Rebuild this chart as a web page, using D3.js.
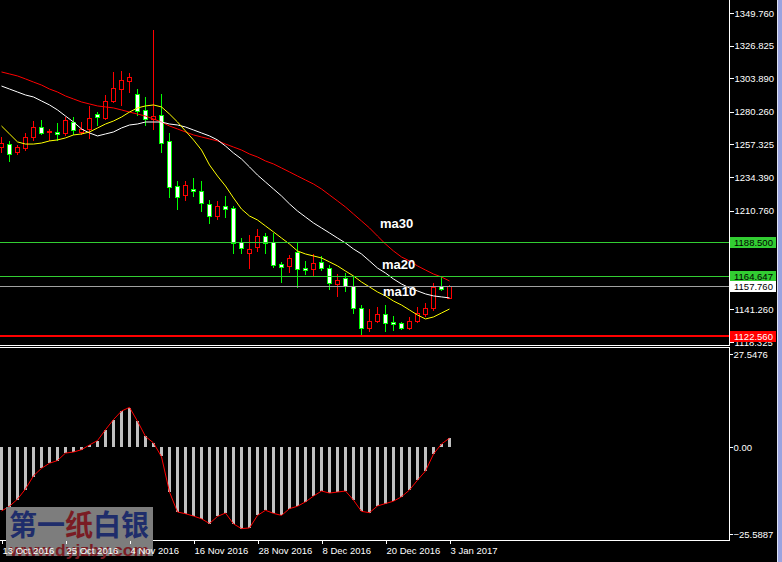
<!DOCTYPE html>
<html><head><meta charset="utf-8">
<script src="https://cdn.jsdelivr.net/npm/d3@7"></script>
<style>html,body{margin:0;padding:0;background:#000;overflow:hidden}svg{display:block}</style>
</head><body><svg id="c" width="782" height="562"></svg>
<script>
const dates = ["13 Oct 2016","14 Oct 2016","17 Oct 2016","18 Oct 2016","19 Oct 2016","20 Oct 2016","21 Oct 2016","24 Oct 2016",
"25 Oct 2016","26 Oct 2016","27 Oct 2016","28 Oct 2016","31 Oct 2016","1 Nov 2016","2 Nov 2016","3 Nov 2016",
"4 Nov 2016","7 Nov 2016","8 Nov 2016","9 Nov 2016","10 Nov 2016","11 Nov 2016","14 Nov 2016","15 Nov 2016",
"16 Nov 2016","17 Nov 2016","18 Nov 2016","21 Nov 2016","22 Nov 2016","23 Nov 2016","24 Nov 2016","25 Nov 2016",
"28 Nov 2016","29 Nov 2016","30 Nov 2016","1 Dec 2016","2 Dec 2016","5 Dec 2016","6 Dec 2016","7 Dec 2016",
"8 Dec 2016","9 Dec 2016","12 Dec 2016","13 Dec 2016","14 Dec 2016","15 Dec 2016","16 Dec 2016","19 Dec 2016",
"20 Dec 2016","21 Dec 2016","22 Dec 2016","23 Dec 2016","27 Dec 2016","28 Dec 2016","29 Dec 2016","30 Dec 2016",
"3 Jan 2017"];
const opens = [1255.5,1257.6,1252.0,1254.8,1262.6,1269.6,1266.1,1266.1,1265.4,1273.1,1266.1,1268.2,1278.7,1275.9,1287.9,1296.3,
1301.9,1292.8,1281.5,1275.2,1278.0,1259.8,1228.1,1221.8,1226.0,1224.6,1215.4,1207.0,1214.0,1212.6,1188.7,1181.0,
1185.2,1192.9,1188.7,1173.3,1171.9,1181.7,1170.4,1169.7,1174.7,1170.4,1159.2,1163.4,1157.8,1142.3,1128.3,1133.2,
1138.1,1132.5,1131.8,1128.3,1133.2,1138.1,1142.3,1157.8,1149.4];
const highs = [1262.6,1259.8,1256.9,1265.4,1273.8,1274.5,1268.2,1272.4,1276.6,1276.6,1273.1,1284.4,1280.1,1292.1,1308.3,1309.0,
1307.6,1296.3,1290.7,1337.8,1292.8,1265.4,1231.6,1231.6,1233.7,1231.6,1218.3,1217.6,1221.1,1214.0,1191.5,1193.7,
1197.9,1195.1,1195.1,1174.7,1179.6,1188.7,1175.4,1180.3,1178.9,1172.6,1166.2,1166.9,1164.1,1144.4,1141.6,1143.0,
1144.4,1136.7,1132.5,1136.0,1143.0,1145.8,1159.9,1164.6,1158.5];
const lows = [1252.0,1245.7,1250.6,1253.4,1260.5,1264.7,1260.5,1260.5,1264.0,1264.7,1264.7,1261.9,1271.0,1275.2,1287.2,1285.1,
1294.2,1278.0,1271.0,1268.2,1252.0,1220.4,1211.9,1218.3,1221.1,1210.5,1202.1,1204.9,1206.3,1181.0,1181.0,1170.4,
1182.4,1181.0,1171.2,1160.6,1167.6,1157.1,1166.2,1165.5,1169.0,1155.7,1150.8,1154.3,1138.8,1122.56,1126.1,1132.5,
1126.1,1126.8,1127.5,1127.5,1132.5,1136.7,1140.9,1155.0,1149.4];
const closes = [1258.3,1250.6,1255.5,1262.6,1269.6,1265.4,1266.8,1264.7,1274.5,1267.5,1268.2,1275.9,1276.6,1287.9,1297.0,1302.6,
1304.8,1280.8,1275.2,1277.3,1258.3,1227.4,1220.4,1228.8,1224.6,1216.2,1207.0,1214.0,1211.9,1188.0,1184.5,1183.8,
1192.9,1188.0,1172.6,1171.2,1177.5,1169.7,1169.0,1174.0,1170.4,1159.9,1162.0,1157.8,1142.3,1128.3,1133.2,1138.1,
1131.8,1131.1,1128.3,1133.2,1138.8,1142.3,1157.1,1155.7,1157.76];
const ma10 = [1270.3,1264.7,1259.1,1257.6,1257.6,1258.3,1259.8,1260.5,1261.9,1264.0,1264.7,1266.1,1268.9,1271.7,1273.8,1276.6,
1280.1,1283.0,1284.4,1285.1,1283.7,1278.7,1273.1,1266.8,1260.5,1253.4,1242.9,1235.1,1228.1,1219.7,1211.9,1207.0,
1204.2,1200.0,1195.8,1191.5,1187.3,1182.4,1180.3,1178.9,1177.5,1174.7,1171.9,1168.3,1164.8,1160.6,1157.1,1153.6,
1150.8,1147.2,1144.4,1140.9,1137.4,1134.6,1136.0,1138.8,1141.6];
const ma20 = [1298.4,1296.3,1294.2,1292.1,1290.7,1287.9,1285.1,1281.6,1277.3,1273.1,1268.2,1265.4,1263.3,1264.7,1266.1,1268.9,
1271.0,1271.7,1273.1,1273.1,1273.1,1271.7,1271.0,1269.6,1267.5,1265.4,1263.3,1260.5,1256.2,1251.3,1247.1,1241.5,
1235.8,1230.9,1226.0,1221.1,1215.5,1210.5,1206.3,1202.1,1198.6,1195.1,1191.5,1188.0,1183.8,1180.3,1175.4,1170.4,
1166.9,1162.7,1159.2,1156.4,1154.3,1152.2,1150.8,1150.1,1149.4];
const ma30 = [1308.3,1306.9,1305.5,1303.4,1301.2,1299.1,1296.3,1294.2,1291.4,1289.3,1287.2,1285.8,1284.4,1283.7,1283.0,1281.6,
1280.1,1278.7,1277.3,1275.2,1273.1,1270.3,1268.2,1266.1,1264.0,1262.6,1261.2,1259.8,1257.6,1255.5,1253.4,1250.6,
1248.5,1245.7,1243.6,1240.8,1238.0,1235.1,1232.3,1229.5,1226.0,1221.8,1217.6,1213.3,1208.4,1203.5,1198.6,1192.9,
1187.3,1182.4,1178.2,1175.4,1171.9,1169.0,1166.2,1164.1,1161.3];
const osc = [-18.6,-17.6,-15.6,-12.6,-8.7,-6.2,-4.7,-3.9,-1.7,-1.4,-0.7,0.7,2.0,5.2,8.2,10.7,
11.7,7.7,3.2,1.3,-2.5,-13.2,-19.1,-19.6,-20.3,-21.1,-22.5,-20.4,-19.4,-22.6,-24.0,-23.8,
-20.1,-18.6,-19.5,-20.1,-18.1,-17.4,-16.1,-14.4,-12.9,-13.5,-13.2,-12.9,-15.6,-18.9,-19.3,-17.3,
-16.6,-15.9,-14.6,-12.6,-9.7,-7.0,-2.0,1.0,2.7];
const signal = [-18.8,-17.4,-15.3,-12.3,-8.4,-6.2,-4.7,-3.9,-1.7,-1.4,-0.7,0.7,2.0,5.2,8.2,10.7,
11.8,7.7,3.2,1.3,-2.8,-13.2,-19.1,-19.6,-20.3,-21.1,-22.5,-20.4,-19.4,-22.6,-24.0,-23.8,
-20.1,-18.6,-19.5,-20.1,-18.1,-17.4,-16.1,-14.4,-12.9,-13.5,-13.2,-12.9,-15.6,-18.9,-19.3,-17.3,
-16.6,-15.9,-14.6,-12.6,-9.7,-7.0,-2.0,1.0,2.7];
const priceTicks = [1349.760,1326.825,1303.890,1280.260,1257.325,1234.390,1210.760,1141.260,1118.325];
const oscTicks = [27.5476, 0, -25.5887];
const levelValues = [1188.500, 1164.647, 1157.760, 1122.560];
const levelKinds = ["line","line","bid","low"];
const maLabels = ["ma30","ma20","ma10"];

const svg = d3.select("#c");
const FONT = "'Liberation Sans', Arial, sans-serif";
svg.append("rect").attr("width",782).attr("height",562).attr("fill","#000");

const n = dates.length;
const x = d3.scaleLinear().domain([0, n-1]).range([1.5, 1.5 + 8*(n-1)]);
const y = d3.scaleLinear().domain([1118.325, 1349.76]).range([342.1, 13]);
const yo = d3.scaleLinear().domain([-25.5887, 27.5476]).range([534, 354]);
const R = 729.5;

const defs = svg.append("defs");
defs.append("clipPath").attr("id","cm").append("rect").attr("x",0).attr("y",0).attr("width",729).attr("height",345);
defs.append("clipPath").attr("id","cl").append("rect").attr("x",0).attr("y",348).attr("width",729).attr("height",192);

const main = svg.append("g").attr("clip-path","url(#cm)");
const lower = svg.append("g").attr("clip-path","url(#cl)");

// candles
const RED = "#ff0000", GRN = "#00ff00";
const cg = main.append("g");
d3.range(n).forEach(i => {
  const up = closes[i] >= opens[i];
  const col = up ? RED : GRN;
  const cx = x(i);
  cg.append("line").attr("x1",cx).attr("x2",cx)
    .attr("y1",Math.round(y(highs[i]))).attr("y2",Math.round(y(lows[i]))+1)
    .attr("stroke",col).attr("stroke-width",1).attr("shape-rendering","crispEdges");
  const yt = Math.round(y(Math.max(opens[i],closes[i]))) + 0.5;
  const yb = Math.round(y(Math.min(opens[i],closes[i]))) + 0.5;
  cg.append("rect").attr("x",cx-2).attr("y",yt).attr("width",4).attr("height",Math.max(0,yb-yt))
    .attr("fill", up ? "#000" : "#fff").attr("stroke",col).attr("stroke-width",1)
    .attr("shape-rendering","crispEdges");
});

// moving averages
const mline = d3.line().x((d,i)=>x(i)).y(d=>y(d));
[[ma30,"#ff0000"],[ma20,"#ffffff"],[ma10,"#ffff00"]].forEach(([arr,c])=>{
  main.append("path").attr("d",mline(arr)).attr("fill","none").attr("stroke",c).attr("stroke-width",1);
});

// horizontal levels
const levelStyle = {line:{stroke:"#32cd32",w:1,bg:"#32cd32",fg:"#000"},
  bid:{stroke:"#a0a0a0",w:1,bg:"#ffffff",fg:"#000"},
  low:{stroke:"#ff0000",w:2,bg:"#ff0000",fg:"#ffffff"}};
levelValues.forEach((v,k)=>{
  const s = levelStyle[levelKinds[k]];
  const yy = Math.round(y(v)) + (s.w===2?0:0.5);
  main.append("line").attr("x1",0).attr("x2",729).attr("y1",yy).attr("y2",yy)
    .attr("stroke",s.stroke).attr("stroke-width",s.w).attr("shape-rendering","crispEdges");
});

// MA labels
const maLabelPos = [[380,228],[382,269],[383,296]];
maLabels.forEach((t,k)=>{
  main.append("text").attr("x",maLabelPos[k][0]).attr("y",maLabelPos[k][1]).text(t)
    .attr("fill","#fff").attr("font-family",FONT).attr("font-weight","bold").attr("font-size","13px");
});

// lower panel histogram
const y0 = Math.round(yo(0));
lower.selectAll("rect.h").data(osc).enter().append("rect")
  .attr("x",(d,i)=>x(i)-1.5).attr("width",3)
  .attr("y",d=> d>=0 ? Math.round(yo(d)) : y0)
  .attr("height",d=> Math.abs(Math.round(yo(d)) - y0))
  .attr("fill","#c0c0c0").attr("shape-rendering","crispEdges");
lower.append("path").attr("d", d3.line().x((d,i)=>x(i)).y(d=>yo(d))(signal))
  .attr("fill","none").attr("stroke","#ff0000").attr("stroke-width",1);

// frames
const fr = svg.append("g").attr("stroke","#fff").attr("stroke-width",1).attr("shape-rendering","crispEdges");
fr.append("line").attr("x1",R).attr("x2",R).attr("y1",0).attr("y2",345.5);
fr.append("line").attr("x1",0).attr("x2",R).attr("y1",345.5).attr("y2",345.5);
fr.append("line").attr("x1",0).attr("x2",R).attr("y1",347.5).attr("y2",347.5);
fr.append("line").attr("x1",R).attr("x2",R).attr("y1",347.5).attr("y2",540.5);

// watermark box (under axis)
const wm = svg.append("g");
wm.append("rect").attr("x",6).attr("y",507).attr("width",147).attr("height",49).attr("fill","#7d7d7d");

// bottom axis
const xa = svg.append("g").attr("transform","translate(0,540.5)")
  .call(d3.axisBottom(x).tickValues(d3.range(0,n,8)).tickFormat(i=>dates[i]).tickSize(3).tickSizeOuter(0));
xa.select(".domain").remove();
svg.append("line").attr("x1",0).attr("x2",R).attr("y1",540.5).attr("y2",540.5)
  .attr("stroke","#fff").attr("shape-rendering","crispEdges");
xa.selectAll(".tick line").attr("stroke","#fff").attr("shape-rendering","crispEdges");

wm.raise();
wm.append("text").attr("x",10).attr("y",556).text("www.dyjzby.com")
  .attr("fill","#7a1c24").attr("font-family",FONT).attr("font-weight","bold").attr("font-size","17px")
  .attr("textLength",139).attr("lengthAdjust","spacingAndGlyphs");
xa.raise();
xa.selectAll(".tick text").attr("fill","#fff").attr("font-family",FONT).attr("font-size","9.5px")
  .attr("text-anchor","start").attr("dy",0).attr("y",13).attr("x",0.5);
const cjk = svg.append("text").attr("x",9).attr("y",536)
  .attr("font-family","'Noto Sans CJK SC', sans-serif").attr("font-weight","bold").attr("font-size","29px")
  .attr("textLength",140).attr("lengthAdjust","spacingAndGlyphs");
[["第一","#1f2d6b"],["纸","#7a1c24"],["白银","#1f2d6b"]].forEach(([t,c])=>cjk.append("tspan").attr("fill",c).text(t));

// right price axis
const ya = svg.append("g").attr("transform",`translate(${R},0)`)
  .call(d3.axisRight(y).tickValues(priceTicks).tickFormat(d3.format(".3f")).tickSize(4).tickPadding(1).tickSizeOuter(0));
ya.select(".domain").remove();
ya.selectAll(".tick line").attr("stroke","#fff").attr("shape-rendering","crispEdges");
ya.selectAll(".tick text").attr("fill","#fff").attr("font-family",FONT).attr("font-size","9.5px");

// level labels
levelValues.forEach((v,k)=>{
  const s = levelStyle[levelKinds[k]];
  const yy = y(v);
  svg.append("rect").attr("x",730).attr("y",Math.round(yy)-5).attr("width",46).attr("height",11)
    .attr("fill",s.bg).attr("shape-rendering","crispEdges");
  svg.append("text").attr("x",734).attr("y",Math.round(yy)+0.5).attr("dy","0.35em").text(d3.format(".3f")(v))
    .attr("fill",s.fg).attr("font-family",FONT).attr("font-size","9.5px");
});

// lower axis
const yoa = svg.append("g").attr("transform",`translate(${R},0)`)
  .call(d3.axisRight(yo).tickValues(oscTicks).tickFormat(d=> d===0 ? "0.00" : d3.format(".4f")(d)).tickSize(3).tickPadding(1).tickSizeOuter(0));
yoa.select(".domain").remove();
yoa.selectAll(".tick line").attr("stroke","#fff").attr("shape-rendering","crispEdges");
yoa.selectAll(".tick text").attr("fill","#fff").attr("font-family",FONT).attr("font-size","9.5px");

// right scrollbar strip
svg.append("rect").attr("x",777).attr("y",0).attr("width",1).attr("height",562).attr("fill","#dfe3f5");
svg.append("rect").attr("x",778).attr("y",0).attr("width",4).attr("height",562).attr("fill","#9aa3e0");
</script></body></html>
